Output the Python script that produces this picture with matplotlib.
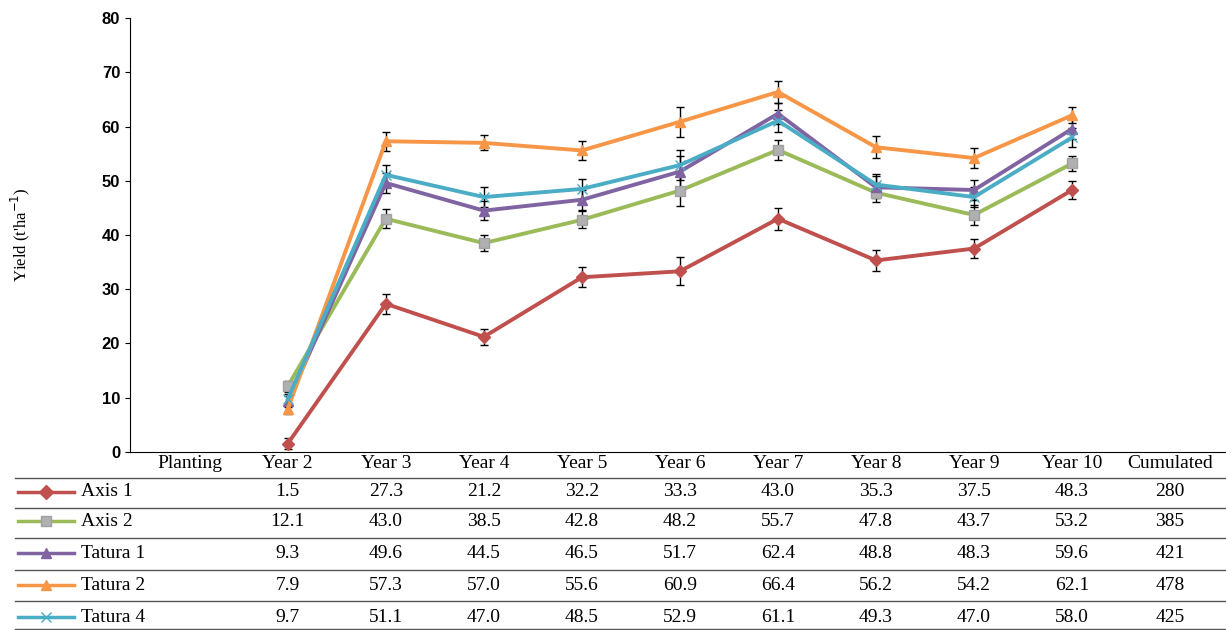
import matplotlib.pyplot as plt
from matplotlib.transforms import blended_transform_factory
from matplotlib.lines import Line2D

columns = ["Planting", "Year 2", "Year 3", "Year 4", "Year 5", "Year 6",
           "Year 7", "Year 8", "Year 9", "Year 10", "Cumulated"]
names = ["Axis 1", "Axis 2", "Tatura 1", "Tatura 2", "Tatura 4"]
colors = ["#c0504d", "#9bbb59", "#8064a2", "#f79646", "#4bacc6"]
markers = ["D", "s", "^", "^", "x"]

axis1 = [1.5, 27.3, 21.2, 32.2, 33.3, 43.0, 35.3, 37.5, 48.3]
axis2 = [12.1, 43.0, 38.5, 42.8, 48.2, 55.7, 47.8, 43.7, 53.2]
tatura1 = [9.3, 49.6, 44.5, 46.5, 51.7, 62.4, 48.8, 48.3, 59.6]
tatura2 = [7.9, 57.3, 57.0, 55.6, 60.9, 66.4, 56.2, 54.2, 62.1]
tatura4 = [9.7, 51.1, 47.0, 48.5, 52.9, 61.1, 49.3, 47.0, 58.0]
cumulated = [280, 385, 421, 478, 425]

err_axis1 = [1.0, 1.8, 1.5, 1.8, 2.6, 2.0, 1.9, 1.7, 1.6]
err_axis2 = [1.0, 1.8, 1.5, 1.6, 2.8, 1.8, 1.8, 1.8, 1.4]
err_tatura1 = [1.0, 1.8, 1.8, 1.8, 2.8, 2.0, 2.0, 1.8, 1.8]
err_tatura2 = [1.0, 1.8, 1.4, 1.8, 2.8, 2.0, 2.0, 1.8, 1.5]
err_tatura4 = [1.0, 1.8, 1.8, 1.8, 2.8, 2.0, 2.0, 1.8, 1.8]

series = [axis1, axis2, tatura1, tatura2, tatura4]
errors = [err_axis1, err_axis2, err_tatura1, err_tatura2, err_tatura4]

plt.rcParams['font.family'] = ['Liberation Serif', 'DejaVu Serif']

fig = plt.figure(figsize=(12.26, 6.3), dpi=100)
ax = fig.add_axes([0.106, 0.283, 0.894, 0.688])

x = list(range(1, 10))
for vals, err, c, m in zip(series, errors, colors, markers):
    ax.errorbar(x, vals, yerr=err, color=c, marker=m, markersize=7 if m != "D" else 6,
                markeredgecolor=c if m != "s" else "#a0a0a0",
                markerfacecolor=c if m != "s" else "#b0b0b0",
                lw=2.8, ecolor="black", elinewidth=1, capsize=3, zorder=3)

ax.set_xlim(-0.61, 10.57)
ax.set_ylim(0, 80)
ax.set_yticks(range(0, 81, 10))
for t in ax.get_yticklabels():
    t.set_fontfamily('Liberation Sans')
    t.set_fontweight('bold')
    t.set_fontsize(12)
ax.set_xticks([])
ax.spines['top'].set_visible(False)
ax.spines['right'].set_visible(False)
ax.set_ylabel("Yield (t'ha$^{-1}$)", fontsize=12, labelpad=50)

# data table below the chart
tr = blended_transform_factory(ax.transData, fig.transFigure)
row_y = [1 - 463 / 630, 1 - 492 / 630, 1 - 521 / 630, 1 - 553 / 630, 1 - 585 / 630, 1 - 617 / 630]
line_y = [1 - 478 / 630, 1 - 508 / 630, 1 - 538 / 630, 1 - 570 / 630, 1 - 601 / 630, 0.001]

for i, col in enumerate(columns):
    ax.text(i, row_y[0], col, transform=tr, ha='center', va='center', fontsize=14, clip_on=False)

for r, (name, vals, c, m) in enumerate(zip(names, series, colors, markers)):
    y = row_y[r + 1]
    fig.add_artist(Line2D([0.015, 0.06], [y, y], color=c, lw=2.5,
                          transform=fig.transFigure))
    fig.add_artist(Line2D([0.0375], [y], color=c, marker=m, markersize=7,
                          markerfacecolor=c if m != "s" else "#b0b0b0",
                          markeredgecolor=c if m != "s" else "#a0a0a0",
                          transform=fig.transFigure))
    fig.text(0.066, y, name, ha='left', va='center', fontsize=14)
    for i, v in enumerate(vals):
        ax.text(i + 1, y, f"{v:.1f}", transform=tr, ha='center', va='center',
                fontsize=14, clip_on=False)
    ax.text(10, y, str(cumulated[r]), transform=tr, ha='center', va='center',
            fontsize=14, clip_on=False)

for ly in line_y:
    fig.add_artist(Line2D([0.012, 1.0], [ly, ly], color="#555555", lw=1,
                          transform=fig.transFigure))

fig.savefig("out.png", dpi=100)
